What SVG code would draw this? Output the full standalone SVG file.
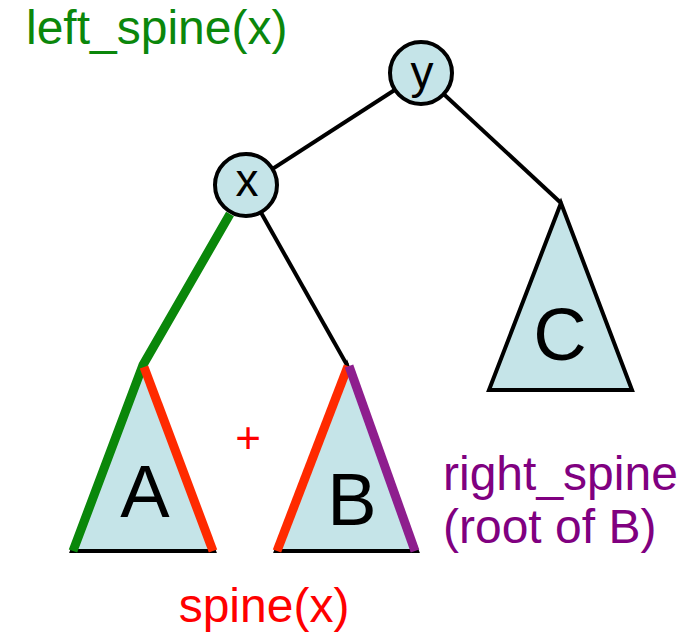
<svg xmlns="http://www.w3.org/2000/svg" width="695" height="638" viewBox="0 0 695 638">
<style>
.lbl{font-family:"Liberation Sans",Arial,sans-serif;}
.tri{fill:#c5e4e8;stroke:#000;stroke-width:4;stroke-linejoin:miter;}
.node circle{fill:#c5e4e8;stroke:#000;stroke-width:4;}
.edge{stroke:#000;stroke-width:4;fill:none;}
.green{stroke:#0a870a;stroke-width:9;fill:none;}
.red{stroke:#ff2a00;stroke-width:9;fill:none;}
.purple{stroke:#8e1e8e;stroke-width:9;fill:none;}
</style>
<rect width="695" height="638" fill="#fff"/>
<g id="connectors">
<line class="edge" x1="421" y1="73" x2="246" y2="186"/>
<line class="edge" x1="421" y1="73" x2="561" y2="203"/>
<line class="edge" x1="246" y1="186" x2="347" y2="365"/>
</g>
<g id="C">
<polygon class="tri" points="561,203 489,390 632,390"/>
<text class="lbl" x="560" y="360" font-size="74" text-anchor="middle">C</text>
</g>
<g id="A">
<polygon class="tri" points="143,365 72,551 214,551"/>
<text class="lbl" x="145" y="517" font-size="74" text-anchor="middle">A</text>
</g>
<g id="B">
<polygon class="tri" points="347,365 276,551 417,551"/>
<text class="lbl" x="352" y="525" font-size="74" text-anchor="middle">B</text>
</g>
<g id="spines">
<polyline class="green" points="230,214 143,365 73,551"/>
<line class="red" x1="144" y1="367" x2="213" y2="551"/>
<line class="red" x1="348" y1="366" x2="277" y2="551"/>
<line class="purple" x1="349" y1="366" x2="415" y2="551"/>
</g>
<g id="y" class="node">
<circle cx="421" cy="73" r="31"/>
<text class="lbl" x="422" y="88" font-size="46" text-anchor="middle">y</text>
</g>
<g id="x" class="node">
<circle cx="246" cy="185" r="31"/>
<text class="lbl" x="247" y="196" font-size="46" text-anchor="middle">x</text>
</g>
<g id="labels">
<text class="lbl" x="26" y="44" font-size="48" fill="#0b870b">left_spine(x)</text>
<text class="lbl" x="443" y="490" font-size="48" fill="#800080">right_spine</text>
<text class="lbl" x="443" y="543" font-size="48" fill="#800080">(root of B)</text>
<text class="lbl" x="264" y="622" font-size="48" fill="#ff0000" text-anchor="middle">spine(x)</text>
<text class="lbl" x="248" y="453" font-size="44" fill="#ff0000" text-anchor="middle">+</text>
</g>
</svg>
